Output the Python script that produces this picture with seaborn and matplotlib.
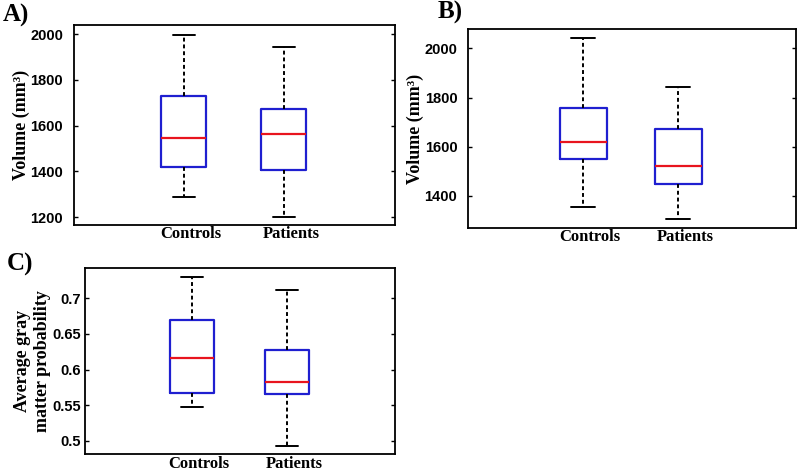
import numpy as np
import pandas as pd
import matplotlib
matplotlib.use("Agg")
import matplotlib.pyplot as plt
import matplotlib.transforms as mtransforms
from matplotlib.ticker import FormatStrFormatter
import seaborn as sns

# five-number summaries: [min, Q1, median, Q3, max]
groups = ["Controls", "Patients"]
vol_a_controls = [1287, 1420, 1544, 1730, 1995]
vol_a_patients = [1201, 1404, 1564, 1671, 1946]
vol_b_controls = [1355, 1548, 1620, 1757, 2043]
vol_b_patients = [1306, 1447, 1522, 1673, 1844]
gm_controls = [0.547, 0.567, 0.616, 0.669, 0.730]
gm_patients = [0.493, 0.565, 0.583, 0.627, 0.712]

ticks_a = [1200, 1400, 1600, 1800, 2000]
ticks_b = [1400, 1600, 1800, 2000]
ticks_c = [0.5, 0.55, 0.6, 0.65, 0.7]

sns.set_style("white")
plt.rcParams.update({"text.color": "black", "axes.labelcolor": "black",
                     "xtick.color": "black", "ytick.color": "black"})
serif = "Liberation Serif"
sans = "Liberation Sans"

blue = "#1f1fd0"
red = "#e8141e"


def make_df(c, p):
    return pd.DataFrame({"group": [groups[0]] * len(c) + [groups[1]] * len(p),
                         "value": c + p})


fig = plt.figure(figsize=(8, 4.72), dpi=100)
ax_a = fig.add_axes([0.0925, 0.5233, 0.401, 0.4237])
ax_b = fig.add_axes([0.5846, 0.5169, 0.41, 0.4216])
ax_c = fig.add_axes([0.10625, 0.0375, 0.3875, 0.394])

panels = [
    (ax_a, make_df(vol_a_controls, vol_a_patients), (1165, 2040), ticks_a, (-1.1, 2.11), 0.45, "%d", 8, "Volume (mm³)", 0),
    (ax_b, make_df(vol_b_controls, vol_b_patients), (1269, 2079), ticks_b, (-1.217, 2.236), 0.5, "%d", 7.5, "Volume (mm³)", 0),
    (ax_c, make_df(gm_controls, gm_patients), (0.481, 0.742), ticks_c, (-1.117, 2.129), 0.46, "%g", 3, "Average gray\nmatter probability", 1),
]

for ax, df, ylim, yt, xlim, w, fmt, pad, ylab, lpad in panels:
    sns.boxplot(data=df, x="group", y="value", ax=ax, whis=(0, 100), width=w,
                fill=False, showfliers=False, color=blue,
                boxprops=dict(color=blue, linewidth=1.6),
                medianprops=dict(color=red, linewidth=1.6),
                whiskerprops=dict(color="black", linestyle=(0, (2, 1.5)), linewidth=1.4),
                capprops=dict(color="black", linewidth=1.4))
    ax.set_ylim(*ylim)
    ax.set_xlim(*xlim)
    ax.set_yticks(yt)
    ax.yaxis.set_major_formatter(FormatStrFormatter(fmt))
    ax.tick_params(axis="y", direction="in", length=3, width=1, right=True, left=True, pad=pad)
    ax.tick_params(axis="x", length=0, pad=1)
    for lab in ax.get_yticklabels():
        lab.set_fontfamily(sans)
        lab.set_fontweight("bold")
        lab.set_fontsize(10.5)
    for lab in ax.get_xticklabels():
        lab.set_fontfamily(serif)
        lab.set_fontweight("bold")
        lab.set_fontsize(12)
        lab.set_transform(lab.get_transform() + mtransforms.ScaledTranslation(0.07, 0, fig.dpi_scale_trans))
    ax.set_xlabel("")
    ax.set_ylabel(ylab, fontfamily=serif, fontweight="bold", fontsize=13, labelpad=lpad, linespacing=1.2)
    for sp in ax.spines.values():
        sp.set_visible(True)
        sp.set_color("black")
        sp.set_linewidth(1.3)

fig.text(0.004, 0.968, "A)", fontfamily=serif, fontweight="bold", fontsize=18, va="center")
fig.text(0.547, 0.974, "B)", fontfamily=serif, fontweight="bold", fontsize=18, va="center")
fig.text(0.008, 0.44, "C)", fontfamily=serif, fontweight="bold", fontsize=18, va="center")

fig.savefig("out.png", dpi=100)
